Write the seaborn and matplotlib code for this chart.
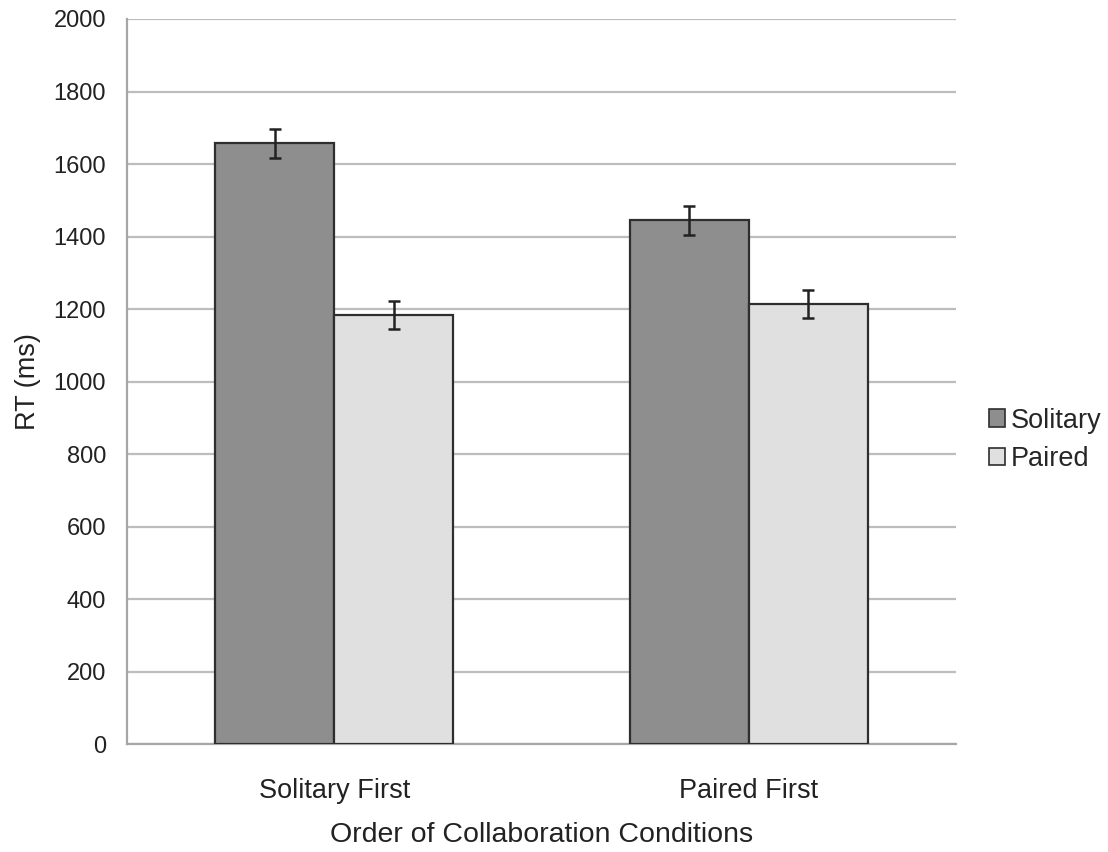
import matplotlib
matplotlib.use("Agg")
import matplotlib.pyplot as plt
import seaborn as sns
import pandas as pd
import numpy as np
from matplotlib.patches import Patch

# Mean response times (ms) and their standard errors
orders = ["Solitary First", "Paired First"]
conditions = ["Solitary", "Paired"]
solitary_rt = [1657, 1445]
paired_rt = [1184, 1214]
solitary_err = [39, 40]
paired_err = [38, 39]

y_ticks = [0, 200, 400, 600, 800, 1000, 1200, 1400, 1600, 1800, 2000]

df = pd.DataFrame({
    "order": orders * 2,
    "condition": [conditions[0]] * 2 + [conditions[1]] * 2,
    "rt": solitary_rt + paired_rt,
    "err": solitary_err + paired_err,
})

sns.set_style("white")
plt.rcParams["font.family"] = ["Liberation Sans", "DejaVu Sans"]

palette = {"Solitary": "#8e8e8e", "Paired": "#e0e0e0"}
edge = "#2e2e2e"
grid_col = "#bdbdbd"
spine_col = "#a6a6a6"
text_col = "#222222"

fig = plt.figure(figsize=(11.08, 8.52), dpi=100)
ax = fig.add_axes([0.1146, 0.1264, 0.7482, 0.8513])

sns.barplot(data=df, x="order", y="rt", hue="condition", order=orders,
            hue_order=conditions, palette=palette, width=0.574, gap=0,
            edgecolor=edge, linewidth=1.6, errorbar=None, legend=False,
            zorder=3, ax=ax)

# Error bars placed at the centres of the drawn bars
for container, cond in zip(ax.containers, conditions):
    sub = df[df["condition"] == cond].set_index("order").loc[orders]
    xs = [p.get_x() + p.get_width() / 2 for p in container.patches]
    hs = [p.get_height() for p in container.patches]
    ax.errorbar(xs, hs, yerr=sub["err"].values, fmt="none", ecolor=text_col,
                elinewidth=1.8, capsize=4.5, capthick=1.8, zorder=4)

ax.set_ylim(0, 2000)
ax.set_xlim(-0.5, 1.5)
ax.set_yticks(y_ticks)
ax.set_yticklabels([str(v) for v in y_ticks], fontsize=17, color=text_col)
ax.yaxis.grid(True, color=grid_col, linewidth=1.6, zorder=0)
ax.set_axisbelow(True)

ax.set_xticks([0, 1])
ax.set_xticklabels(orders, fontsize=19.5, color=text_col)
ax.set_xticks([-0.5, 0.5, 1.5], minor=True)
ax.tick_params(axis="x", which="major", length=0, pad=24)
ax.tick_params(axis="x", which="minor", length=8, width=1.6, color=spine_col,
               direction="out")
ax.tick_params(axis="y", which="major", length=6, width=1.6, color=spine_col,
               direction="out", pad=9)

for side in ["top", "right"]:
    ax.spines[side].set_visible(False)
for side in ["left", "bottom"]:
    ax.spines[side].set_color(spine_col)
    ax.spines[side].set_linewidth(1.6)

ax.set_xlabel("Order of Collaboration Conditions", fontsize=20.5,
              color=text_col, labelpad=13)
ax.set_ylabel("RT (ms)", fontsize=19.5, color=text_col, labelpad=9)

handles = [Patch(facecolor=palette[c], edgecolor=edge, linewidth=1.2, label=c)
           for c in conditions]
fig.legend(handles=handles, loc="center left", bbox_to_anchor=(0.8825, 0.484),
           frameon=False, fontsize=19.5, handlelength=0.6, handleheight=0.6,
           handletextpad=0.2, labelspacing=0.45, borderaxespad=0)

fig.savefig("out.png", dpi=100, facecolor="white")
